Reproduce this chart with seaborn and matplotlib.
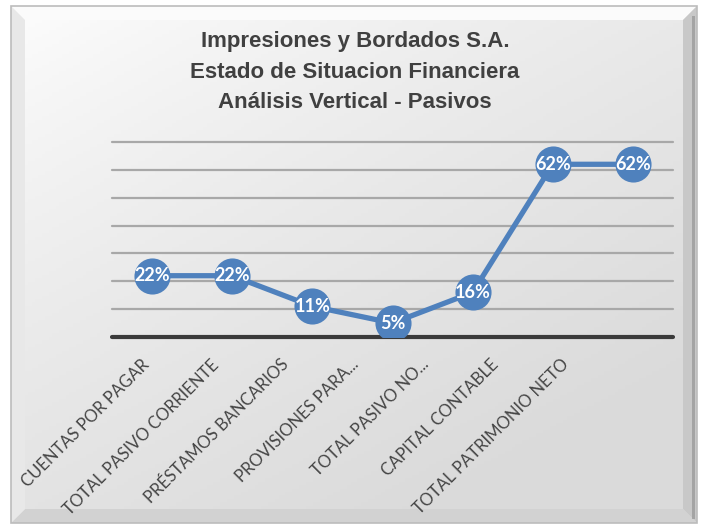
import numpy as np
import pandas as pd
import matplotlib
matplotlib.use("Agg")
import matplotlib.pyplot as plt
import matplotlib.transforms as mtransforms
import seaborn as sns
from matplotlib.patches import Rectangle, Polygon

categories = ["CUENTAS POR PAGAR", "TOTAL PASIVO CORRIENTE", "PRÉSTAMOS BANCARIOS",
              "PROVISIONES PARA...", "TOTAL PASIVO NO...", "CAPITAL CONTABLE",
              "TOTAL PATRIMONIO NETO"]
values = [0.22, 0.22, 0.11, 0.05, 0.16, 0.62, 0.62]
labels = ["22%", "22%", "11%", "5%", "16%", "62%", "62%"]
yticks = [0.0, 0.1, 0.2, 0.3, 0.4, 0.5, 0.6, 0.7]
title_lines = ["Impresiones y Bordados S.A.", "Estado de Situacion Financiera",
               "Análisis Vertical - Pasivos"]

sns.set_style("white")
plt.rcParams['font.family'] = ['Lato', 'DejaVu Sans']

W, H = 702, 527
fig = plt.figure(figsize=(W / 100, H / 100), dpi=100)
fig.patch.set_facecolor("white")

# background frame with gradient
bg = fig.add_axes([0, 0, 1, 1])
bg.set_xlim(0, W)
bg.set_ylim(H, 0)
bg.axis("off")
x0, y0, x1, y1 = 11, 6, 697, 523
gx = np.linspace(0, 1, 200)
gy = np.linspace(0, 1, 150)
GX, GY = np.meshgrid(gx, gy)
t = np.clip(0.5 * GX + 0.7 * GY, 0, 1) ** 0.8
lum = 0.995 - 0.14 * t
img = np.dstack([lum, lum, lum])
bg.imshow(img, extent=[x0, x1, y1, y0], aspect="auto", zorder=0)
# bevel edges
b = 14
bg.add_patch(Polygon([[x0, y0], [x1, y0], [x1 - b, y0 + b], [x0 + b, y0 + b]],
                     closed=True, facecolor="#fbfbfb", edgecolor="none", zorder=1))
bg.add_patch(Polygon([[x1, y0], [x1, y1], [x1 - b, y1 - b], [x1 - b, y0 + b]],
                     closed=True, facecolor="#c8c8c8", edgecolor="none", zorder=1))
bg.add_patch(Polygon([[x0, y1], [x1, y1], [x1 - b, y1 - b], [x0 + b, y1 - b]],
                     closed=True, facecolor="#d2d2d2", edgecolor="none", zorder=1))
bg.add_patch(Polygon([[x0, y0], [x0, y1], [x0 + b, y1 - b], [x0 + b, y0 + b]],
                     closed=True, facecolor="#e8e8e8", edgecolor="none", zorder=1))
bg.add_patch(Rectangle((x0, y0), x1 - x0, y1 - y0, facecolor="none",
                       edgecolor="#bcbcbc", linewidth=1.2, zorder=2))
bg.add_patch(Rectangle((x1 - 5, y0 + 10), 3, y1 - y0 - 14, facecolor="#8c8c8c",
                       edgecolor="none", zorder=2, alpha=0.6))

# title
for line, yy in zip(title_lines, [41, 72, 102]):
    fig.text(355 / W, 1 - yy / H, line, ha="center", va="center",
             fontsize=16, fontweight="bold", color="#404040",
             family=['Liberation Sans', 'DejaVu Sans'])

# main axes
left, right, top, bottom = 112, 673, 142, 337
ax = fig.add_axes([left / W, 1 - bottom / H, (right - left) / W, (bottom - top) / H])
ax.patch.set_alpha(0)
df = pd.DataFrame({"idx": np.arange(len(categories)), "val": values})
sns.lineplot(data=df, x="idx", y="val", ax=ax, color="#4f81bd", linewidth=3.8,
             marker="o", markersize=26, markeredgewidth=0, sort=False, zorder=5)
for xi, v, lab in zip(df["idx"], values, labels):
    ax.text(xi, v, lab, ha="center", va="center", color="white",
            fontsize=13, fontweight="bold", zorder=6)

ax.set_xlim(-0.5, len(categories) - 0.5)
ax.set_ylim(0, 0.7)
ax.set_yticks(yticks)
ax.set_yticklabels([])
ax.tick_params(axis="y", length=0)
for yv in yticks[1:]:
    ax.axhline(yv, color="#a8a8a8", linewidth=1.6, zorder=1, clip_on=False)
ax.axhline(0, color="#3a3a3a", linewidth=3, zorder=2, clip_on=False)
for s in ax.spines.values():
    s.set_visible(False)
ax.set_xticks(df["idx"])
ax.set_xticklabels(categories, rotation=45, ha="right", rotation_mode="anchor",
                   fontsize=12, color="#454545")
ax.tick_params(axis="x", length=0, pad=14)
for i, tl in enumerate(ax.get_xticklabels()):
    off = mtransforms.ScaledTranslation(-(11 + 10.3 * i) / 100, 0, fig.dpi_scale_trans)
    tl.set_transform(tl.get_transform() + off)
ax.set_xlabel("")
ax.set_ylabel("")
ax.grid(False)

fig.savefig("out.png", dpi=100)
